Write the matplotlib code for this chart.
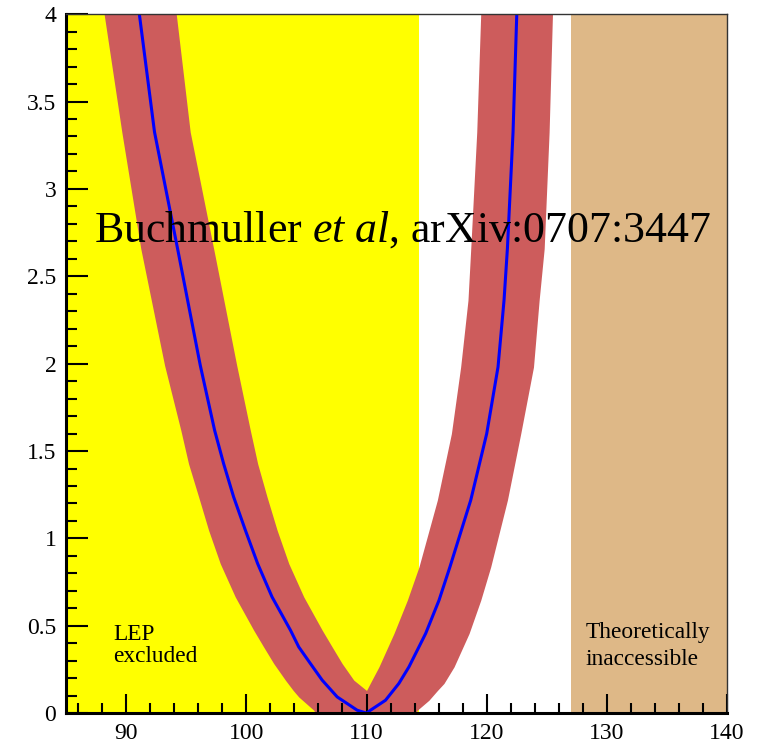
import numpy as np
import matplotlib.pyplot as plt

plt.rcParams['font.family'] = ['Liberation Serif', 'DejaVu Serif']
plt.rcParams['mathtext.fontset'] = 'custom'
plt.rcParams['mathtext.rm'] = 'Liberation Serif'
plt.rcParams['mathtext.it'] = 'Liberation Serif:italic'

# Delta chi^2 vs Higgs mass: best-fit curve, low-mass branch
chi2_fit_lo = [0.0, 0.017, 0.093, 0.189, 0.284, 0.379, 0.475, 0.665, 0.856, 1.047,
               1.238, 1.428, 1.619, 1.99, 2.658, 3.326, 4.0]
mh_fit_lo = [110.0, 109.22, 107.56, 106.31, 105.33, 104.36, 103.67, 102.14, 100.94,
             99.92, 98.94, 98.11, 97.36, 96.17, 94.28, 92.36, 91.1]
# high-mass branch
chi2_fit_hi = [0.0, 0.017, 0.074, 0.17, 0.265, 0.456, 0.646, 0.837, 1.219, 1.60,
               1.981, 2.363, 2.658, 3.326, 4.0]
mh_fit_hi = [110.0, 110.33, 111.58, 112.69, 113.53, 114.92, 116.03, 116.94, 118.67,
             120.0, 120.94, 121.44, 121.72, 122.19, 122.5]

# theory-uncertainty band, low-mass side (outer and inner edge)
chi2_band_lo = [0.0, 0.017, 0.093, 0.13, 0.189, 0.284, 0.379, 0.475, 0.665, 0.856,
                1.047, 1.238, 1.428, 1.619, 1.99, 2.658, 3.326, 4.0]
band_lo_outer = [105.75, 105.61, 104.36, 103.9, 103.25, 102.28, 101.44, 100.61, 99.08,
                 97.83, 96.86, 96.03, 95.19, 94.55, 93.2, 91.22, 89.64, 88.17]
band_lo_inner = [110.0, 110.0, 110.0, 110.0, 108.94, 107.97, 107.14, 106.31, 104.78,
                 103.53, 102.56, 101.72, 100.94, 100.33, 99.2, 97.28, 95.33, 94.17]
# high-mass side
chi2_band_hi = [0.0, 0.017, 0.074, 0.13, 0.17, 0.265, 0.456, 0.646, 0.837, 1.219,
                1.60, 1.981, 2.363, 2.658, 3.326, 4.0]
band_hi_inner = [110.0, 110.0, 110.0, 110.0, 110.3, 111.03, 112.28, 113.39, 114.36,
                 115.89, 117.06, 117.83, 118.44, 118.67, 119.17, 119.5]
band_hi_outer = [114.1, 114.22, 115.19, 115.9, 116.44, 117.28, 118.53, 119.5, 120.33,
                 121.72, 122.83, 123.89, 124.36, 124.78, 125.19, 125.47]

lep_limit = 114.4
theory_limit = 127.0

fig = plt.figure(figsize=(7.59, 7.46), dpi=100)
ax = fig.add_axes([0.087, 0.044, 0.871, 0.937])

ax.axvspan(85, lep_limit, color='#ffff00', lw=0, zorder=0)
ax.axvspan(theory_limit, 140, color='#deb887', lw=0, zorder=0)

ax.fill_betweenx(chi2_band_lo, band_lo_outer, band_lo_inner, color='#cd5c5c', lw=0, zorder=1)
ax.fill_betweenx(chi2_band_hi, band_hi_inner, band_hi_outer, color='#cd5c5c', lw=0, zorder=1)

mh_curve = np.concatenate([mh_fit_lo[::-1], mh_fit_hi[1:]])
chi2_curve = np.concatenate([chi2_fit_lo[::-1], chi2_fit_hi[1:]])
ax.plot(mh_curve, chi2_curve, color='#0000ff', lw=2.2, zorder=2)

ax.text(87.35, 2.70, r'Buchmuller $\mathit{et\ al}$, arXiv:0707:3447',
        fontsize=31.6, ha='left', va='baseline', zorder=3)
ax.text(88.95, 0.418, 'LEP', fontsize=16.8, ha='left', va='baseline', zorder=3)
ax.text(88.95, 0.29, 'excluded', fontsize=16.8, ha='left', va='baseline', zorder=3)
ax.text(128.25, 0.433, 'Theoretically', fontsize=16.8, ha='left', va='baseline', zorder=3)
ax.text(128.25, 0.275, 'inaccessible', fontsize=16.8, ha='left', va='baseline', zorder=3)

ax.set_xlim(85, 140)
ax.set_ylim(0, 4)
ax.set_xticks([90, 100, 110, 120, 130, 140])
ax.set_xticks(np.arange(86, 140, 2), minor=True)
ax.set_yticks([0, 0.5, 1, 1.5, 2, 2.5, 3, 3.5, 4])
ax.set_yticks(np.arange(0, 4.01, 0.1), minor=True)
ax.set_yticklabels(['0', '0.5', '1', '1.5', '2', '2.5', '3', '3.5', '4'])

ax.tick_params(axis='both', which='both', direction='in', width=1.5, labelsize=17,
               top=False, right=False)
ax.tick_params(axis='y', which='major', length=16, pad=7)
ax.tick_params(axis='y', which='minor', length=8)
ax.tick_params(axis='x', which='major', length=14, pad=7)
ax.tick_params(axis='x', which='minor', length=7)

for side in ['left', 'bottom']:
    ax.spines[side].set_linewidth(2.2)
for side in ['top', 'right']:
    ax.spines[side].set_linewidth(1.0)
    ax.spines[side].set_color('#333333')
for s in ax.spines.values():
    s.set_zorder(5)

fig.savefig('out.png', dpi=100)
